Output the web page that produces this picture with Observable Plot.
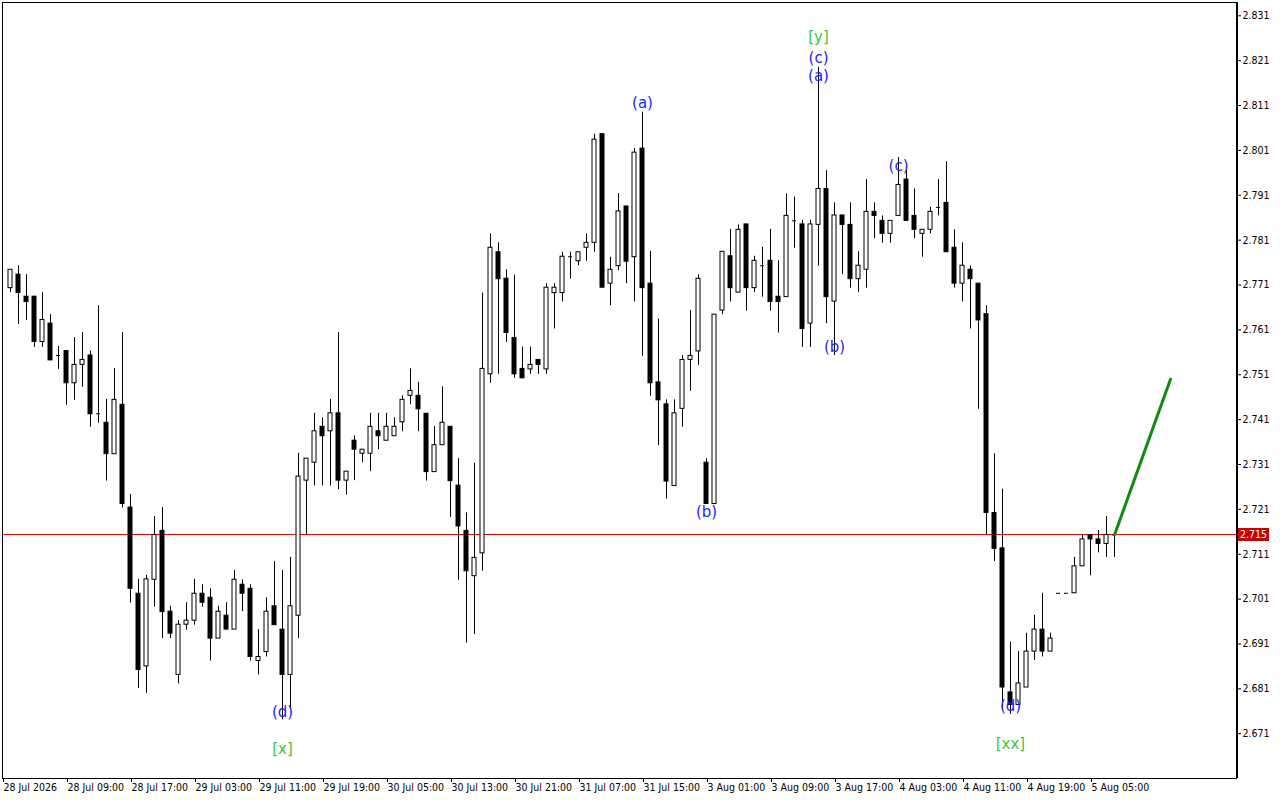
<!DOCTYPE html>
<html>
<head>
<meta charset="utf-8">
<script src="https://cdn.jsdelivr.net/npm/d3@7"></script>
<script src="https://cdn.jsdelivr.net/npm/@observablehq/plot@0.6"></script>
<style>
  html, body { margin: 0; padding: 0; background: #ffffff; }
  #chart svg { display: block; }
</style>
</head>
<body>
<div id="chart"></div>
<script>
// Hourly bars, 28 Jul 02:00 -> 5 Aug 08:00 (session 01:00-22:00)
const open = [
2.7703,2.7733,2.7684,2.7684,2.7583,2.7624,2.7553,2.7563,2.7491,2.7532,
2.7553,2.7423,2.7403,2.7333,2.7443,2.7214,2.7022,2.6860,2.7053,2.7162,
2.6982,2.6841,2.6953,2.6962,2.7022,2.7013,2.6922,2.6973,2.6942,2.7042,
2.7033,2.6872,2.6892,2.6994,2.6942,2.6841,2.6973,2.7274,2.7314,2.7394,
2.7384,2.7424,2.7274,2.7363,2.7334,2.7334,2.7384,2.7363,2.7373,2.7404,
2.7463,2.7463,2.7423,2.7293,2.7353,2.7394,2.7263,2.7162,2.7061,2.7112,
2.7511,2.7783,2.7724,2.7592,2.7523,2.7522,2.7543,2.7522,2.7692,2.7692,
2.7773,2.7763,2.7793,2.7804,2.8046,2.7713,2.7752,2.7885,2.7772,2.8014,
2.7713,2.7493,2.7444,2.7262,2.7434,2.7543,2.7562,2.7314,2.7222,2.7653,
2.7774,2.7693,2.7845,2.7703,2.7753,2.7764,2.7684,2.7683,2.7853,2.7845,
2.7624,2.7844,2.7924,2.7673,2.7865,2.7844,2.7723,2.7744,2.7873,2.7853,
2.7824,2.7864,2.7945,2.7864,2.7824,2.7833,2.7883,2.7893,2.7793,2.7713,
2.7744,2.7713,2.7645,2.7202,2.7123,2.6802,2.6774,2.6813,2.6893,2.6942,
2.6893,2.7023,2.7023,2.7023,2.7083,2.7153,2.7143,2.7133,2.7153];
const high = [
2.7744,2.7753,2.7733,2.7684,2.7693,2.7644,2.7573,2.7563,2.7593,2.7604,
2.7563,2.7664,2.7455,2.7524,2.7604,2.7243,2.7054,2.7063,2.7194,2.7214,
2.6994,2.6962,2.7002,2.7054,2.7042,2.7033,2.6994,2.7002,2.7074,2.7053,
2.7042,2.6942,2.7013,2.7094,2.7074,2.7103,2.7335,2.7323,2.7424,2.7414,
2.7455,2.7604,2.7294,2.7374,2.7343,2.7424,2.7424,2.7424,2.7414,2.7463,
2.7523,2.7493,2.7423,2.7395,2.7483,2.7394,2.7323,2.7202,2.7313,2.7692,
2.7824,2.7804,2.7744,2.7732,2.7572,2.7572,2.7543,2.7713,2.7713,2.7783,
2.7783,2.7783,2.7824,2.8046,2.8046,2.7772,2.7914,2.7885,2.8014,2.8095,
2.7785,2.7634,2.7454,2.7454,2.7553,2.7653,2.7733,2.7323,2.7644,2.7784,
2.7834,2.7844,2.7845,2.7774,2.7794,2.7834,2.7764,2.7913,2.7906,2.7854,
2.7854,2.8195,2.7965,2.7893,2.7865,2.7893,2.7784,2.7945,2.7893,2.7864,
2.7853,2.7994,2.7965,2.7924,2.7833,2.7883,2.7945,2.7985,2.7833,2.7804,
2.7753,2.7713,2.7664,2.7334,2.7255,2.6914,2.6893,2.6934,2.6974,2.7023,
2.6934,2.7023,2.7023,2.7103,2.7153,2.7153,2.7163,2.7194,2.7153];
const low = [
2.7693,2.7622,2.7631,2.7571,2.7571,2.7542,2.7522,2.7442,2.7453,2.7482,
2.7393,2.7402,2.7273,2.7333,2.7213,2.7001,2.6811,2.6800,2.6992,2.6922,
2.6922,2.6821,2.6941,2.6952,2.6992,2.6872,2.6922,2.6942,2.6942,2.6982,
2.6872,2.6841,2.6881,2.6952,2.6741,2.6766,2.6922,2.7153,2.7262,2.7262,
2.7262,2.7254,2.7242,2.7274,2.7314,2.7294,2.7343,2.7363,2.7373,2.7383,
2.7443,2.7383,2.7273,2.7293,2.7353,2.7192,2.7052,2.6912,2.6931,2.7072,
2.7491,2.7511,2.7582,2.7502,2.7502,2.7511,2.7511,2.7511,2.7612,2.7672,
2.7723,2.7753,2.7763,2.7783,2.7704,2.7664,2.7742,2.7713,2.7672,2.7551,
2.7462,2.7352,2.7233,2.7262,2.7393,2.7473,2.7531,2.7222,2.7222,2.7644,
2.7672,2.7693,2.7652,2.7693,2.7683,2.7652,2.7603,2.7683,2.7792,2.7571,
2.7571,2.7752,2.7624,2.7553,2.7733,2.7703,2.7693,2.7703,2.7813,2.7803,
2.7803,2.7864,2.7853,2.7813,2.7772,2.7824,2.7864,2.7783,2.7703,2.7672,
2.7612,2.7433,2.7153,2.7094,2.6764,2.6753,2.6774,2.6813,2.6873,2.6881,
2.6893,2.7023,2.7023,2.7023,2.7083,2.7062,2.7113,2.7103,2.7103];
const close = [
2.7744,2.7692,2.7672,2.7583,2.7632,2.7542,2.7553,2.7491,2.7532,2.7543,
2.7422,2.7423,2.7333,2.7454,2.7222,2.7033,2.6852,2.7054,2.7153,2.6981,
2.6933,2.6953,2.6962,2.7022,2.7002,2.6922,2.6982,2.6942,2.7053,2.7022,
2.6881,2.6881,2.6982,2.6952,2.6841,2.6994,2.7283,2.7323,2.7384,2.7373,
2.7424,2.7274,2.7294,2.7343,2.7343,2.7394,2.7373,2.7394,2.7394,2.7454,
2.7474,2.7433,2.7293,2.7353,2.7403,2.7273,2.7172,2.7072,2.7102,2.7523,
2.7793,2.7723,2.7603,2.7511,2.7502,2.7532,2.7532,2.7704,2.7704,2.7773,
2.7773,2.7783,2.7804,2.8034,2.7704,2.7744,2.7874,2.7762,2.8005,2.7703,
2.7491,2.7453,2.7272,2.7424,2.7543,2.7552,2.7724,2.7222,2.7644,2.7784,
2.7703,2.7833,2.7703,2.7764,2.7753,2.7672,2.7672,2.7864,2.7853,2.7612,
2.7845,2.7924,2.7683,2.7865,2.7844,2.7723,2.7753,2.7873,2.7864,2.7824,
2.7853,2.7933,2.7853,2.7833,2.7833,2.7873,2.7883,2.7783,2.7713,2.7753,
2.7723,2.7631,2.7202,2.7122,2.6813,2.6774,2.6822,2.6893,2.6942,2.6893,
2.6922,2.7023,2.7023,2.7083,2.7143,2.7143,2.7133,2.7153,2.7153];

// time axis (bar index -> label)
const timeTickIndex = [-1, 7, 15, 23, 31, 39, 47, 55, 63, 71, 79, 87, 95, 103, 111, 119, 127, 135];
const timeTickLabels = ["28 Jul 2026","28 Jul 09:00","28 Jul 17:00","29 Jul 03:00","29 Jul 11:00",
  "29 Jul 19:00","30 Jul 05:00","30 Jul 13:00","30 Jul 21:00","31 Jul 07:00","31 Jul 15:00",
  "3 Aug 01:00","3 Aug 09:00","3 Aug 17:00","4 Aug 03:00","4 Aug 11:00","4 Aug 19:00","5 Aug 05:00"];

// price axis
const priceTicks = [2.671,2.681,2.691,2.701,2.711,2.721,2.731,2.741,2.751,2.761,2.771,2.781,2.791,2.801,2.811,2.821,2.831];

// wave labels
const waveIndex = [34, 34, 79, 87, 101, 101, 101, 103, 111, 125, 125];
const waveText  = ["(d)", "[x]", "(a)", "(b)", "[y]", "(c)", "(a)", "(b)", "(c)", "(d)", "[xx]"];
const wavePrice = [2.6759, 2.6675, 2.8115, 2.7203, 2.8262, 2.8215, 2.8175, 2.7571, 2.7974, 2.6771, 2.6686];
const waveDegree = ["minor","major","minor","minor","major","minor","minor","minor","minor","minor","major"];

// forecast arrow
const forecastIndex = [138, 145];
const forecastPrice = [2.7153, 2.7500];

const xDomain = [-1, 153.25];
const yDomain = [2.66102, 2.83396];
const W = 1280, H = 800, mL = 2, mT = 2, mR = 44, mB = 22;

const bars = open.map((o, i) => ({i, open: o, high: high[i], low: low[i], close: close[i]}));
const bodies = bars.filter(d => d.open !== d.close);
const dojis = bars.filter(d => d.open === d.close);
const last = close[close.length - 1];
const waves = waveIndex.map((x, k) => ({x, y: wavePrice[k], text: waveText[k],
  color: waveDegree[k] === "major" ? "#3cc83c" : "#2222ff"}));
const forecast = forecastIndex.map((x, k) => ({x, y: forecastPrice[k]}));
const tickLabel = new Map(timeTickIndex.map((d, k) => [d, timeTickLabels[k]]));

// snap the current-price line to a whole pixel row
const yScale = Plot.scale({y: {type: "linear", domain: yDomain, range: [H - mB, mT]}});
const yLastRaw = yScale.apply(last);
const snapDy = Math.round(yLastRaw) - yLastRaw;

const axisFont = "'Liberation Sans Narrow', 'DejaVu Sans Condensed', 'Liberation Sans', Arial, sans-serif";

const plot = Plot.plot({
  width: W,
  height: H,
  marginLeft: mL,
  marginTop: mT,
  marginRight: mR,
  marginBottom: mB,
  style: {fontFamily: axisFont, fontSize: "10.5px", background: "white", color: "black", overflow: "visible"},
  x: {type: "linear", domain: xDomain, axis: null},
  y: {type: "linear", domain: yDomain, axis: null},
  color: {type: "identity"},
  marks: [
    Plot.ruleY([last], {stroke: "#ff0000", strokeWidth: 1, dy: snapDy}),
    Plot.ruleX(bars, {x: "i", y1: "low", y2: "high", stroke: "black"}),
    Plot.rect(bodies, {
      x1: d => d.i - 0.25, x2: d => d.i + 0.25, y1: "open", y2: "close",
      fill: d => d.close > d.open ? "white" : "black", stroke: "black", strokeWidth: 1
    }),
    Plot.ruleY(dojis, {y: "open", x1: d => d.i - 0.25, x2: d => d.i + 0.25, stroke: "black"}),
    Plot.line(forecast, {x: "x", y: "y", stroke: "#118a11", strokeWidth: 3}),
    Plot.text(waves, {x: "x", y: "y", text: "text", fill: "color",
      fontFamily: "'DejaVu Sans', Verdana, sans-serif", fontSize: 15}),
    Plot.frame({stroke: "black"}),
    Plot.ruleX([xDomain[1]], {stroke: "black", strokeWidth: 2, dx: 0.5}),
    Plot.axisY(priceTicks, {anchor: "right", tickSize: 4, tickPadding: 2, tickFormat: d3.format(".3f")}),
    Plot.axisX(timeTickIndex, {anchor: "bottom", tickSize: 4, tickPadding: 1, textAnchor: "start", dx: 1,
      tickFormat: d => tickLabel.get(d)})
  ]
});

document.getElementById("chart").appendChild(plot);

// current price label box on the price axis
const svg = d3.select(plot);
const yLast = Math.round(plot.scale("y").apply(last)) + 0.5;
const xRight = plot.scale("x").apply(xDomain[1]);
const g = svg.append("g");
g.append("rect").attr("x", xRight + 2).attr("y", yLast - 6.5).attr("width", 31).attr("height", 13).attr("fill", "#cc0000");
g.append("text").attr("x", xRight + 17.5).attr("y", yLast).attr("dy", "0.35em")
  .attr("text-anchor", "middle").attr("fill", "white")
  .attr("font-family", axisFont).attr("font-size", "10.5px")
  .text(d3.format(".3f")(last));
</script>
</body>
</html>
